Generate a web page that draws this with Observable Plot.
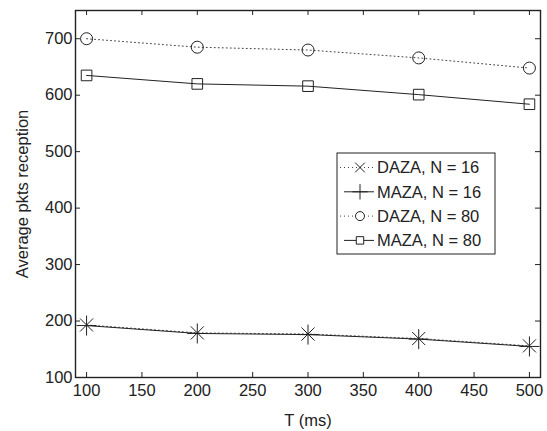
<!DOCTYPE html>
<html><head><meta charset="utf-8">
<script src="https://cdn.jsdelivr.net/npm/d3@7"></script>
<script src="https://cdn.jsdelivr.net/npm/@observablehq/plot@0.6"></script>
<style>
body{margin:0;background:#fff;}
#chart{position:relative;width:547px;height:431px;}
svg{font-family:"Liberation Sans",Arial,Helvetica,sans-serif;}
</style>
</head><body><div id="chart"></div>
<script>
const T = [100, 200, 300, 400, 500];
const dazaN16 = [193, 179, 177, 169, 156];
const mazaN16 = [192, 178, 176, 168, 155];
const dazaN80 = [700, 685, 680, 666, 648];
const mazaN80 = [635, 620, 616, 601, 584];
const seriesNames = ["DAZA, N = 16", "MAZA, N = 16", "DAZA, N = 80", "MAZA, N = 80"];
const seriesSymbols = ["times", "plus", "circle", "square"];
const seriesDash = ["1,3", null, "1,3", null];
const seriesValues = [dazaN16, mazaN16, dazaN80, mazaN80];
const xTicks = [100, 150, 200, 250, 300, 350, 400, 450, 500];
const yTicks = [100, 200, 300, 400, 500, 600, 700];

const W = 547, H = 431;
const mL = 75, mR = 7, mT = 10, mB = 54;
const fW = W - mL - mR, fH = H - mT - mB;
const ink = "#222";
const FS = 16.5;
const symR = {times: 6, plus: 6.5, circle: 6, square: 6};
const legR = {times: 4.5, plus: 5, circle: 4.5, square: 4.2};

const rows = [];
seriesNames.forEach((s, i) => T.forEach((t, j) => rows.push({series: s, i, T: t, v: seriesValues[i][j]})));

const marks = [];
seriesNames.forEach((s, i) => {
  const d = rows.filter(r => r.i === i);
  const dotted = !!seriesDash[i];
  marks.push(Plot.line(d, {x: "T", y: "v", stroke: dotted ? "#444" : ink, strokeWidth: 1, strokeDasharray: seriesDash[i] || undefined}));
  marks.push(Plot.dot(d, {x: "T", y: "v", symbol: () => seriesSymbols[i], r: symR[seriesSymbols[i]], stroke: ink, strokeWidth: 1, fill: "none"}));
});

const plot = Plot.plot({
  width: W, height: H,
  marginLeft: mL, marginRight: mR, marginTop: mT, marginBottom: mB,
  style: {fontSize: FS + "px", fontFamily: "'Liberation Sans', Arial, sans-serif", color: ink, background: "#fff"},
  x: {domain: [90, 510]},
  y: {domain: [100, 750]},
  symbol: {type: "identity"},
  marks: [
    Plot.ruleX(xTicks, {x: d => d, insetTop: fH - 5, stroke: ink, strokeWidth: 1}),
    Plot.ruleX(xTicks, {x: d => d, insetBottom: fH - 5, stroke: ink, strokeWidth: 1}),
    Plot.ruleY(yTicks, {y: d => d, insetRight: fW - 5, stroke: ink, strokeWidth: 1}),
    Plot.ruleY(yTicks, {y: d => d, insetLeft: fW - 5, stroke: ink, strokeWidth: 1}),
    ...marks,
    Plot.axisX({ticks: xTicks, tickSize: 0, tickPadding: 7, tickFormat: d => String(d), label: "T (ms)", labelArrow: "none", labelAnchor: "center", labelOffset: 48, fontSize: FS}),
    Plot.axisY({ticks: yTicks, tickSize: 0, tickPadding: 3, tickFormat: d => String(d), label: "Average pkts reception", labelArrow: "none", labelAnchor: "center", labelOffset: 59, fontSize: FS}),
    Plot.frame({stroke: ink, strokeWidth: 1.4})
  ]
});
document.getElementById("chart").appendChild(plot);

// Legend
const svg = d3.select(plot);
const lg = svg.append("g").attr("text-anchor", "start");
const bx = 337, by = 153, bw = 158, bh = 101;
lg.append("rect").attr("x", bx).attr("y", by).attr("width", bw).attr("height", bh)
  .attr("fill", "#fff").attr("stroke", ink).attr("stroke-width", 1);
const symMap = {times: d3.symbolTimes, plus: d3.symbolPlus, circle: d3.symbolCircle, square: d3.symbolSquare};
seriesNames.forEach((s, i) => {
  const cy = by + 14.5 + i * 24.3;
  const dotted = !!seriesDash[i];
  lg.append("line").attr("x1", bx + (dotted ? 3 : 7)).attr("x2", bx + 37).attr("y1", cy).attr("y2", cy)
    .attr("stroke", dotted ? "#444" : ink).attr("stroke-width", 1).attr("stroke-dasharray", seriesDash[i]);
  const r = legR[seriesSymbols[i]];
  lg.append("path").attr("d", d3.symbol(symMap[seriesSymbols[i]], Math.PI * r * r)())
    .attr("transform", `translate(${bx + 23},${cy})`).attr("fill", "#fff").attr("stroke", ink).attr("stroke-width", 1);
  lg.append("text").attr("x", bx + 40).attr("y", cy).attr("dy", "0.35em")
    .attr("font-size", FS).attr("fill", ink).text(s);
});
</script>
</body></html>
